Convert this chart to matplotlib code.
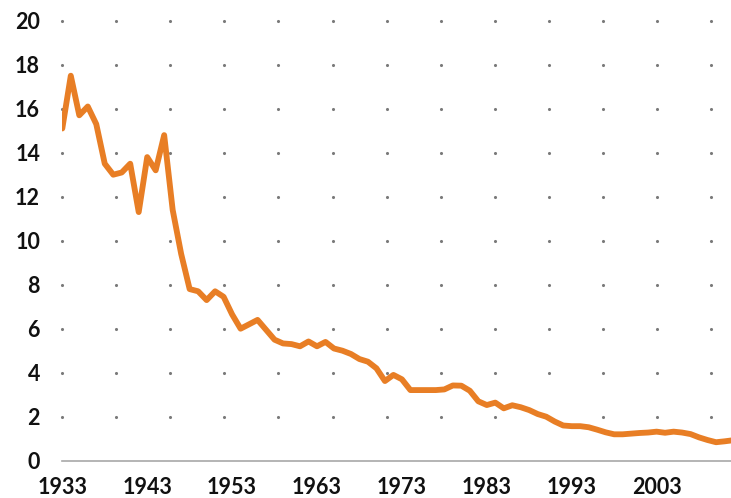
import matplotlib
matplotlib.use("Agg")
import matplotlib.pyplot as plt
import numpy as np

years = list(range(1933, 2013))
values = [
    15.1, 17.5, 15.7, 16.1, 15.3, 13.5, 13.0, 13.1, 13.5, 11.3,
    13.8, 13.2, 14.8, 11.4, 9.4, 7.8, 7.7, 7.3, 7.7, 7.45,
    6.65, 6.0, 6.2, 6.4, 5.95, 5.5, 5.33, 5.3, 5.2, 5.42,
    5.2, 5.4, 5.1, 5.0, 4.85, 4.62, 4.5, 4.2, 3.62, 3.9,
    3.7, 3.21, 3.21, 3.21, 3.21, 3.24, 3.42, 3.41, 3.18, 2.7,
    2.53, 2.64, 2.38, 2.52, 2.43, 2.3, 2.12, 2.0, 1.78, 1.6,
    1.57, 1.57, 1.52, 1.41, 1.29, 1.2, 1.2, 1.23, 1.26, 1.28,
    1.32, 1.27, 1.32, 1.28, 1.21, 1.06, 0.94, 0.84, 0.88, 0.93,
]
xtick_years = [1933, 1943, 1953, 1963, 1973, 1983, 1993, 2003]
ytick_vals = [0, 2, 4, 6, 8, 10, 12, 14, 16, 18, 20]

W, H = 731, 498
fig = plt.figure(figsize=(W / 100, H / 100), dpi=100)
left = 62.3 / W
bottom = 1 - 460.7 / H
top = 1 - 20.7 / H
ax = fig.add_axes([left, bottom, 1 - left, top - bottom])

x0 = 1933
xmax = x0 + (W - 62.3) / 8.49
ax.set_xlim(x0, xmax)
ax.set_ylim(0, 20)

# dotted grid
dot_step = 54.05 / 8.49
dx = [x0 + k * dot_step for k in range(13)]
for yv in range(2, 21, 2):
    ax.scatter(dx, [yv] * len(dx), s=5, color="#7a7a7a", zorder=1,
               clip_on=False, linewidths=0)

# baseline
ax.axhline(0, color="#a8a8a8", lw=1.2, zorder=2, clip_on=False)

ax.plot(years, values, color="#E87E25", lw=4.2, solid_joinstyle="round",
        solid_capstyle="round", zorder=3)

for s in ax.spines.values():
    s.set_visible(False)

font = dict(family="Lato", weight="bold", size=15.5, color="#111111")
ax.set_yticks(ytick_vals)
ax.set_yticklabels([str(v) for v in ytick_vals], **font)
ax.set_xticks(xtick_years)
ax.set_xticklabels([str(v) for v in xtick_years], **font)
ax.tick_params(axis="y", length=0, pad=16)
ax.tick_params(axis="x", length=0, pad=11.5)
for lbl in ax.get_xticklabels():
    lbl.set_x(lbl.get_position()[0])

fig.savefig("out.png", dpi=100)
